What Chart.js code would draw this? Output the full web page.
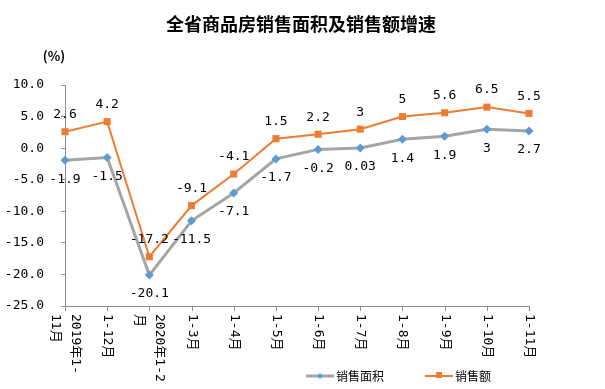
<!DOCTYPE html>
<html>
<head>
<meta charset="utf-8">
<script src="https://cdn.jsdelivr.net/npm/chart.js@4.4.0/dist/chart.umd.min.js"></script>
<style>
  html, body { margin: 0; padding: 0; background: #fff; }
  #wrap { width: 605px; height: 389px; }
</style>
</head>
<body>
<div id="wrap"><canvas id="chartCanvas" width="605" height="389"></canvas></div>
<script>
const categories = ["2019年1-11月", "1-12月", "2020年1-2月", "1-3月", "1-4月", "1-5月",
    "1-6月", "1-7月", "1-8月", "1-9月", "1-10月", "1-11月"];
// wrapped tick labels as they appear under the axis
const xTickLabels = [["2019年1-", "11月"], ["1-12月"], ["2020年1-2", "月"], ["1-3月"], ["1-4月"],
    ["1-5月"], ["1-6月"], ["1-7月"], ["1-8月"], ["1-9月"], ["1-10月"], ["1-11月"]];
const areaGrowth = [-1.9, -1.5, -20.1, -11.5, -7.1, -1.7, -0.2, 0.03, 1.4, 1.9, 3, 2.7];
const salesGrowth = [2.6, 4.2, -17.2, -9.1, -4.1, 1.5, 2.2, 3, 5, 5.6, 6.5, 5.5];
const seriesNames = ["销售面积", "销售额"];
const yTicks = [10, 5, 0, -5, -10, -15, -20, -25];

const numFont = '13px "DejaVu Sans Mono", "Noto Sans CJK SC"';
const axisGray = '#8c8c8c';

const extras = {
    id: 'extras',
    afterDraw(chart) {
        const ctx = chart.ctx;
        const area = chart.chartArea;
        const xs = chart.scales.x;
        ctx.save();

        // title
        ctx.fillStyle = '#000';
        ctx.font = 'bold 18px "Noto Sans CJK SC"';
        ctx.textAlign = 'center';
        ctx.textBaseline = 'middle';
        ctx.fillText('全省商品房销售面积及销售额增速', 301, 24);

        ctx.font = 'bold 13px "Noto Sans CJK SC"';
        ctx.fillText('(%)', 54, 56);

        // x ticks + vertical labels
        ctx.strokeStyle = axisGray;
        ctx.lineWidth = 1;
        ctx.font = numFont;
        for (let i = 0; i < categories.length; i++) {
            const x = Math.round(xs.getPixelForValue(i)) + 0.5;
            ctx.beginPath();
            ctx.moveTo(x, area.bottom);
            ctx.lineTo(x, area.bottom + 5);
            ctx.stroke();

            const lines = xTickLabels[i];
            ctx.save();
            ctx.translate(x, area.bottom + 8);
            ctx.rotate(Math.PI / 2);
            ctx.textAlign = 'left';
            ctx.textBaseline = 'middle';
            lines.forEach((t, j) => {
                ctx.fillText(t, 0, (j - (lines.length - 1) / 2) * 20);
            });
            ctx.restore();
        }

        // data labels
        ctx.textAlign = 'center';
        ctx.textBaseline = 'middle';
        const m0 = chart.getDatasetMeta(0);
        const m1 = chart.getDatasetMeta(1);
        m0.data.forEach((p, i) => ctx.fillText(String(areaGrowth[i]), p.x, p.y + 19));
        m1.data.forEach((p, i) => ctx.fillText(String(salesGrowth[i]), p.x, p.y - 17));

        // legend
        const ly = 376;
        ctx.lineCap = 'butt';
        ctx.strokeStyle = '#A5A5A5';
        ctx.lineWidth = 3;
        ctx.beginPath(); ctx.moveTo(306, ly); ctx.lineTo(334, ly); ctx.stroke();
        ctx.fillStyle = '#5B9BD5';
        ctx.beginPath();
        ctx.moveTo(320, ly - 3); ctx.lineTo(323, ly); ctx.lineTo(320, ly + 3); ctx.lineTo(317, ly);
        ctx.closePath(); ctx.fill();

        ctx.strokeStyle = '#ED7D31';
        ctx.lineWidth = 2;
        ctx.beginPath(); ctx.moveTo(425, ly); ctx.lineTo(453, ly); ctx.stroke();
        ctx.fillStyle = '#ED7D31';
        ctx.fillRect(436, ly - 4, 6, 6);

        ctx.fillStyle = '#000';
        ctx.font = '12px "Noto Sans CJK SC"';
        ctx.textAlign = 'left';
        ctx.fillText(seriesNames[0], 336, ly);
        ctx.fillText(seriesNames[1], 455, ly);
        ctx.restore();
    }
};

const data = {
    labels: categories,
    datasets: [
        {
            label: seriesNames[0],
            data: areaGrowth,
            borderColor: '#A5A5A5',
            borderWidth: 3,
            pointStyle: 'rectRot',
            pointRadius: 4.5,
            pointBackgroundColor: '#5B9BD5',
            pointBorderColor: '#5B9BD5',
            pointBorderWidth: 0,
            tension: 0
        },
        {
            label: seriesNames[1],
            data: salesGrowth,
            borderColor: '#ED7D31',
            borderWidth: 2,
            pointStyle: 'rect',
            pointRadius: 5,
            pointBackgroundColor: '#ED7D31',
            pointBorderColor: '#ED7D31',
            pointBorderWidth: 0,
            tension: 0
        }
    ]
};

const config = {
    type: 'line',
    data: data,
    options: {
        responsive: false,
        animation: false,
        layout: { padding: { top: 85, left: 0, right: 76, bottom: 83 } },
        plugins: {
            legend: { display: false },
            title: { display: false },
            tooltip: { enabled: false }
        },
        scales: {
            x: {
                offset: false,
                grid: { display: false },
                border: { display: true, color: axisGray, width: 1 },
                ticks: { display: false },
                afterFit(s) { s.height = 0; }
            },
            y: {
                min: -25,
                max: 10,
                afterBuildTicks(s) { s.ticks = yTicks.map(v => ({ value: v })); },
                grid: { drawOnChartArea: false, drawTicks: true, tickLength: 4, color: axisGray },
                border: { display: true, color: axisGray, width: 1 },
                ticks: {
                    color: '#000',
                    font: { family: '"DejaVu Sans Mono"', size: 13 },
                    padding: 17,
                    callback: v => Number(v).toFixed(1)
                },
                afterFit(s) { s.width = 65; }
            }
        }
    },
    plugins: [extras]
};

const myChart = new Chart(document.getElementById('chartCanvas'), config);
</script>
</body>
</html>
